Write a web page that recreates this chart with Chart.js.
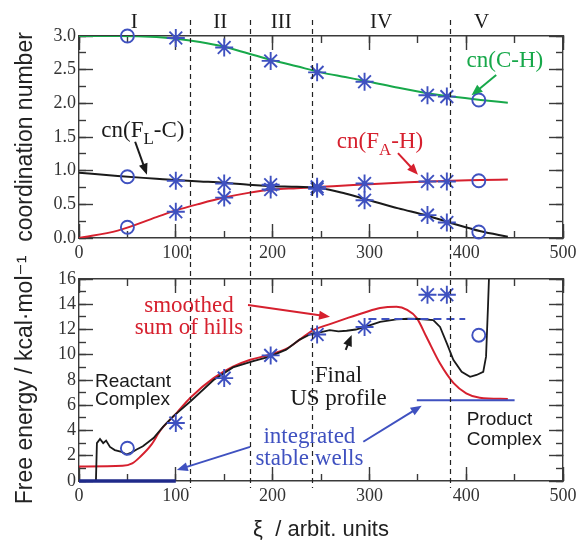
<!DOCTYPE html>
<html>
<head>
<meta charset="utf-8">
<script src="https://cdn.jsdelivr.net/npm/chart.js@4.4.1/dist/chart.umd.min.js"></script>
<style>
  html, body { margin: 0; padding: 0; background: #fff; }
  #wrap { position: relative; width: 579px; height: 546px; overflow: hidden; }
  canvas { position: absolute; left: 0; }
  #cTop { top: 0; }
  #cBot { top: 240px; }
</style>
</head>
<body>
<div id="wrap">
  <canvas id="cTop" width="579" height="262"></canvas>
  <canvas id="cBot" width="579" height="306"></canvas>
</div>
<script>
// ---- data ----
// top panel: coordination numbers
const cnX   = [0, 40, 80, 100, 125, 150, 175, 200, 225, 250, 275, 300, 330, 360, 385, 415, 443];
const cnCH  = [3.0, 3.0, 2.985, 2.96, 2.91, 2.84, 2.74, 2.64, 2.55, 2.46, 2.39, 2.32, 2.23, 2.15, 2.10, 2.05, 2.01];
const cnFLC = [0.97, 0.92, 0.88, 0.86, 0.84, 0.82, 0.79, 0.77, 0.76, 0.74, 0.66, 0.56, 0.44, 0.33, 0.22, 0.10, 0.02];
const cnFAH = [0.0, 0.11, 0.31, 0.41, 0.51, 0.60, 0.67, 0.72, 0.74, 0.76, 0.78, 0.80, 0.82, 0.84, 0.85, 0.86, 0.87];

const starX   = [100, 150, 198, 246, 295, 360, 380];
const starCH  = [2.97, 2.83, 2.63, 2.46, 2.32, 2.12, 2.10];
const starFLC = [0.85, 0.81, 0.79, 0.76, 0.56, 0.34, 0.23];
const starFAH = [0.39, 0.60, 0.72, 0.73, 0.81, 0.84, 0.84];
const circX   = [50, 413];
const circCH  = [3.0, 2.05];
const circFLC = [0.91, 0.09];
const circFAH = [0.16, 0.85];

// bottom panel: free energy
const hillsX = [0, 45, 55, 63, 75, 84, 101, 115, 139, 159, 177, 197, 215, 228, 242, 260, 277, 295, 311, 328, 339, 349, 359, 373, 387, 400, 414, 443];
const hillsY = [1.15, 1.2, 1.4, 1.9, 2.9, 4.0, 5.4, 6.6, 8.15, 9.05, 9.6, 10.0, 10.5, 11.2, 11.95, 12.45, 12.9, 13.35, 13.7, 13.8, 13.55, 12.9, 11.4, 9.3, 7.75, 6.95, 6.6, 6.5];
const usX = [17.5, 18.5, 21.7, 25, 28, 32, 37, 44, 49, 54, 59.5, 66, 77, 87, 97, 115, 139, 159, 180, 197, 214, 228, 241, 250, 259, 268, 276.5, 286, 295.5, 311, 328, 340, 352, 366, 373, 380, 386.7, 395.3, 404, 410.7, 417.6, 420.5, 422.5, 423.5];
const usY = [0, 3.0, 3.33, 3.0, 3.2, 2.7, 2.45, 2.3, 2.1, 2.25, 2.5, 2.75, 3.4, 4.3, 5.1, 6.3, 8.0, 9.0, 9.5, 9.85, 10.4, 11.2, 11.7, 11.8, 11.95, 11.85, 11.9, 12.0, 12.2, 12.6, 12.8, 12.85, 12.83, 12.75, 12.2, 10.9, 9.6, 8.65, 8.25, 8.4, 8.65, 9.85, 13.8, 16];
const feStarY = [4.6, 8.15, 9.95, 11.6, 12.2, 14.75, 14.75];
const feCircY = [2.6, 11.55];
const well1X = [0, 100],   well1Y = [0, 0];
const well2X = [349, 450], well2Y = [6.4, 6.4];
const wellDashX = [299, 399], wellDashY = [12.83, 12.83];

// reaction regions
const regionEdges   = [115, 177, 241, 383];
const regionLabels  = ['I', 'II', 'III', 'IV', 'V'];
const regionCenters = [57, 146, 209, 312, 416];

// ---- styles ----
const GREEN = '#17a84a', RED = '#d6202e', BLUE = '#3f51c0', NAVY = '#1f2a8a', INK = '#1a1a1a', AXIS = '#3a3a3a';
const SERIF = '"Liberation Serif", "Times New Roman", serif';
const SANS = '"Liberation Sans", Arial, "DejaVu Sans", sans-serif';

const pts = (xs, ys) => xs.map((x, i) => ({x: x, y: ys[i]}));

function curve(xs, ys, color, extra) {
  return Object.assign({
    type: 'line', data: pts(xs, ys), borderColor: color, borderWidth: 2,
    pointRadius: 0, cubicInterpolationMode: 'monotone', fill: false
  }, extra || {});
}
function marks(xs, ys, style, r) {
  return {
    type: 'line', showLine: false, data: pts(xs, ys), pointStyle: style, pointRadius: r,
    pointBorderColor: BLUE, pointBackgroundColor: 'rgba(0,0,0,0)', pointBorderWidth: 1.9, clip: false
  };
}

function noteArrow(ctx, x1, y1, x2, y2, color) {
  const ang = Math.atan2(y2 - y1, x2 - x1), hl = 11, hw = 4.5;
  ctx.save();
  ctx.strokeStyle = color; ctx.fillStyle = color; ctx.lineWidth = 2;
  ctx.beginPath();
  ctx.moveTo(x1, y1);
  ctx.lineTo(x2 - Math.cos(ang) * hl * 0.8, y2 - Math.sin(ang) * hl * 0.8);
  ctx.stroke();
  ctx.beginPath();
  ctx.moveTo(x2, y2);
  ctx.lineTo(x2 - Math.cos(ang) * hl - Math.sin(ang) * hw, y2 - Math.sin(ang) * hl + Math.cos(ang) * hw);
  ctx.lineTo(x2 - Math.cos(ang) * hl + Math.sin(ang) * hw, y2 - Math.sin(ang) * hl - Math.cos(ang) * hw);
  ctx.closePath();
  ctx.fill();
  ctx.restore();
}

// text made of pieces, some as subscripts, centred on cx
function richText(ctx, parts, cx, by, size, color) {
  const big = size + 'px ' + SERIF, small = Math.round(size * 0.72) + 'px ' + SERIF;
  let w = 0;
  parts.forEach(p => { ctx.font = p[1] ? small : big; w += ctx.measureText(p[0]).width; });
  let x = cx - w / 2;
  ctx.fillStyle = color;
  ctx.textBaseline = 'alphabetic';
  ctx.textAlign = 'left';
  parts.forEach(p => {
    ctx.font = p[1] ? small : big;
    ctx.fillText(p[0], x, p[1] ? by + size * 0.3 : by);
    x += ctx.measureText(p[0]).width;
  });
}

// annotations in data units
const topNotes = [
  {parts: [['cn(F'], ['L', 1], ['-C)']], x: 66, y: 1.5, color: INK},
  {parts: [['cn(C-H)']], x: 440, y: 2.54, color: GREEN},
  {parts: [['cn(F'], ['A', 1], ['-H)']], x: 311, y: 1.34, color: RED}
];
const topArrows = [
  {from: [58, 1.43], to: [70.2, 0.94], color: INK},
  {from: [431, 2.42], to: [405.5, 2.12], color: GREEN},
  {from: [329.5, 1.26], to: [350.2, 0.94], color: RED}
];
const botNotes = [
  {lines: ['smoothed', 'sum of hills'], x: 113.6, y: [13.41, 11.64], color: RED, font: SERIF, size: 23, align: 'center'},
  {lines: ['Final', 'US profile'], x: 268, y: [7.87, 6.0], color: INK, font: SERIF, size: 23, align: 'center'},
  {lines: ['Reactant', 'Complex'], x: 16.5, y: [7.47, 6.02], color: INK, font: SANS, size: 19, align: 'left'},
  {lines: ['Product', 'Complex'], x: 400.5, y: [4.44, 2.85], color: INK, font: SANS, size: 19, align: 'left'},
  {lines: ['integrated', 'stable wells'], x: 238, y: [2.99, 1.27], color: BLUE, font: SERIF, size: 23, align: 'center'}
];
const botArrows = [
  {from: [174.6, 13.94], to: [259.3, 13.01], color: RED},
  {from: [275.5, 10.38], to: [281.7, 11.56], color: INK},
  {from: [176.7, 2.7], to: [101, 0.87], color: BLUE},
  {from: [293.7, 3.11], to: [354, 5.96], color: BLUE}
];

function regionLines(chart, top, bottom) {
  const ctx = chart.ctx, xs = chart.scales.x;
  ctx.save();
  ctx.strokeStyle = '#222';
  ctx.lineWidth = 1.2;
  ctx.setLineDash([5, 4]);
  regionEdges.forEach(v => {
    const px = Math.round(xs.getPixelForValue(v)) + 0.5;
    ctx.beginPath(); ctx.moveTo(px, top); ctx.lineTo(px, bottom); ctx.stroke();
  });
  ctx.restore();
}

const annoPlugin = {
  id: 'anno',
  afterDatasetsDraw(chart, args, o) {
    const ctx = chart.ctx, a = chart.chartArea;
    const xs = chart.scales.x, ys = chart.scales.y;
    const P = (d) => [xs.getPixelForValue(d[0]), ys.getPixelForValue(d[1])];
    if (o.panel === 'top') {
      regionLines(chart, a.top - 16, chart.height);
      ctx.save();
      ctx.font = '21px ' + SERIF;
      ctx.fillStyle = INK; ctx.textAlign = 'center'; ctx.textBaseline = 'alphabetic';
      regionLabels.forEach((t, i) => ctx.fillText(t, xs.getPixelForValue(regionCenters[i]), a.top - 8));
      topNotes.forEach(n => richText(ctx, n.parts, xs.getPixelForValue(n.x), ys.getPixelForValue(n.y), 23, n.color));
      ctx.restore();
      topArrows.forEach(r => { const f = P(r.from), t = P(r.to); noteArrow(ctx, f[0], f[1], t[0], t[1], r.color); });
    } else {
      regionLines(chart, 22, a.bottom + 7);
      ctx.save();
      botNotes.forEach(n => {
        ctx.font = n.size + 'px ' + n.font;
        ctx.fillStyle = n.color; ctx.textAlign = n.align; ctx.textBaseline = 'alphabetic';
        n.lines.forEach((t, i) => ctx.fillText(t, xs.getPixelForValue(n.x), ys.getPixelForValue(n.y[i])));
      });
      ctx.restore();
      botArrows.forEach(r => { const f = P(r.from), t = P(r.to); noteArrow(ctx, f[0], f[1], t[0], t[1], r.color); });
    }
  }
};

// zero-size axes that only carry inward ticks (and the top/right frame lines)
function tickAxis(pos, max, step, len, weight, withBorder) {
  const horiz = pos === 'top' || pos === 'bottom';
  return {
    type: 'linear', position: pos, min: 0, max: max, weight: weight,
    grid: {display: true, drawOnChartArea: false, drawTicks: true, tickLength: -len, tickColor: AXIS, tickWidth: 1.4},
    border: {display: withBorder, color: AXIS, width: 1.4},
    ticks: {display: false, stepSize: step},
    afterFit: s => {
      if (horiz) { s.height = 0; s.paddingLeft = 0; s.paddingRight = 0; }
      else { s.width = 0; s.paddingTop = 0; s.paddingBottom = 0; }
    }
  };
}

function makeScales(yMax, yStep, yMinor, yFmt, yTitle, xTitle, xHeight) {
  const tickFont = {family: SERIF, size: 18};
  const x = {
    type: 'linear', position: 'bottom', min: 0, max: 500,
    grid: {display: false, drawTicks: false}, border: {display: true, color: AXIS, width: 1.4},
    ticks: {stepSize: 100, font: tickFont, color: '#333', padding: 4, maxRotation: 0},
    afterFit: s => { s.height = xHeight; s.paddingLeft = 0; s.paddingRight = 0; }
  };
  if (xTitle) {
    x.title = {display: true, text: xTitle, font: {family: SANS, size: 22}, color: '#222', padding: {top: 0, bottom: 3}};
  }
  return {
    x: x,
    y: {
      position: 'left', min: 0, max: yMax,
      grid: {display: false, drawTicks: false}, border: {display: true, color: AXIS, width: 1.4},
      ticks: {stepSize: yStep, font: tickFont, color: '#333', padding: 3, callback: yFmt},
      title: {display: true, text: yTitle, font: {family: SANS, size: 23}, color: '#222', padding: {top: 12, bottom: 0}},
      afterFit: s => { s.width = 79; s.paddingTop = 0; s.paddingBottom = 0; }
    },
    xBotMajor: tickAxis('bottom', 500, 100, 14, -1, false),
    xBotMinor: tickAxis('bottom', 500, 50, 7, -2, false),
    xTopMajor: tickAxis('top', 500, 100, 14, -1, true),
    xTopMinor: tickAxis('top', 500, 50, 7, -2, false),
    yLeftMajor: tickAxis('left', yMax, yStep, 14, -1, false),
    yLeftMinor: tickAxis('left', yMax, yMinor, 7, -2, false),
    yRightMajor: tickAxis('right', yMax, yStep, 14, -1, true),
    yRightMinor: tickAxis('right', yMax, yMinor, 7, -2, false)
  };
}

const common = {
  responsive: false, animation: false, events: [],
  plugins: {legend: {display: false}, tooltip: {enabled: false}}
};

new Chart(document.getElementById('cTop'), {
  type: 'line',
  data: {
    datasets: [
      marks(starX, starCH, 'star', 9), marks(starX, starFLC, 'star', 9), marks(starX, starFAH, 'star', 9),
      marks(circX, circCH, 'circle', 6.5), marks(circX, circFLC, 'circle', 6.5), marks(circX, circFAH, 'circle', 6.5),
      curve(cnX, cnCH, GREEN), curve(cnX, cnFLC, INK), curve(cnX, cnFAH, RED)
    ]
  },
  options: Object.assign({}, common, {
    layout: {padding: {left: 0, right: 16, top: 36, bottom: 0}},
    scales: makeScales(3, 0.5, 0.25, v => v.toFixed(1), 'coordination number', null, 24),
    plugins: Object.assign({}, common.plugins, {anno: {panel: 'top'}})
  }),
  plugins: [annoPlugin]
});

new Chart(document.getElementById('cBot'), {
  type: 'line',
  data: {
    datasets: [
      marks(starX, feStarY, 'star', 9),
      marks(circX, feCircY, 'circle', 6.5),
      curve(wellDashX, wellDashY, BLUE, {borderDash: [8, 5], cubicInterpolationMode: 'default', tension: 0}),
      curve(well2X, well2Y, BLUE, {cubicInterpolationMode: 'default', tension: 0}),
      curve(well1X, well1Y, NAVY, {borderWidth: 3.5, clip: false, cubicInterpolationMode: 'default', tension: 0}),
      curve(usX, usY, INK, {cubicInterpolationMode: 'default', tension: 0, borderWidth: 1.8}),
      curve(hillsX, hillsY, RED)
    ]
  },
  options: Object.assign({}, common, {
    layout: {padding: {left: 0, right: 16, top: 39, bottom: 0}},
    scales: makeScales(16, 2, 1, v => String(v), 'Free energy / kcal\u00b7mol\u207b\u00b9', '\u03be  / arbit. units', 65),
    plugins: Object.assign({}, common.plugins, {anno: {panel: 'bottom'}})
  }),
  plugins: [annoPlugin]
});
</script>
</body>
</html>
